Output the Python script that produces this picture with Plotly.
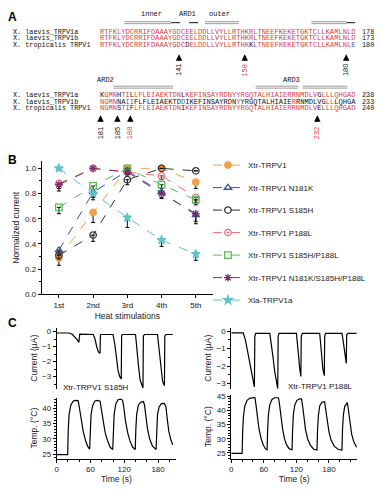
import plotly.graph_objects as go

W, H = 381, 500
def px(x): return x / W
def py(y): return 1 - y / H

SANS = "Liberation Sans"
MONO = "Liberation Mono"

# ---------------- Panel A data ----------------
species = ["X. laevis_TRPV1a", "X. laevis_TRPV1b", "X. tropicalis TRPV1"]
block1 = ["RTFKLYDCRRIFDAAAYGDCEELDDLLVYLLRTHKRLTNEEFKEKETGKTCLLKAMLNLD",
          "RTFKLYDCRRIFDAAAYGDCEELDDLLVYLLRTHKRLTNEEFKEKETGKTCLLKAMLNLD",
          "RTFKLYDCRRIFDAAAYGDCDELDDLLVYLLRTHKKLTNEEFKEKETGKTCLLKAMLNLE"]
block1_end = ["178", "173", "180"]
block2 = ["KGMNHTILLFLEIAEKTDNLKEFINSAYRDNYYRGQTALHIAIERRNMDLVGLLLQHGAD",
          "NGMNNAIIFLFLEIAEKTDDIKEFINSAYRDNYYRGQTALHIAIERRNMDLVGLLLQHGAD"[:60],
          "NGMNSTIFLFLEIAEKTDNIKEFINSAYRDNYYRGQTALHIAIERRNMDLVELLLQHGAD"]
block2_end = ["238", "233", "240"]
blue_marks = {(0, 2, 59), (1, 1, 7), (1, 1, 19), (1, 2, 6)}
sites1 = ["141", "158", "180"]
sites1_red = [False, True, False]
sites2 = ["181", "185", "188", "232"]
sites2_red = [False, False, True, True]

# ---------------- Panel B data ----------------
stims = ["1st", "2nd", "3rd", "4th", "5th"]
names = ["Xtr-TRPV1", "Xtr-TRPV1 N181K", "Xtr-TRPV1 S185H", "Xtr-TRPV1 P188L",
         "Xtr-TRPV1 S185H/P188L", "Xtr-TRPV1 N181K/S185H/P188L", "Xla-TRPV1a"]
wt = [0.29, 0.65, 1.00, 1.00, 0.89]
wt_err = [0.06, 0.08, 0.0, 0.0, 0.05]
n181k = [0.35, 0.81, 0.98, 0.81, 0.63]
n181k_err = [0.03, 0.06, 0.02, 0.04, 0.05]
s185h = [0.31, 0.47, 0.91, 1.00, 0.98]
s185h_err = [0.03, 0.05, 0.04, 0.0, 0.0]
p188l = [0.88, 1.00, 0.97, 0.94, 0.77]
p188l_err = [0.04, 0.0, 0.02, 0.03, 0.04]
dbl = [0.69, 0.86, 1.00, 0.87, 0.75]
dbl_err = [0.05, 0.03, 0.0, 0.03, 0.04]
tri = [0.87, 1.00, 0.97, 0.80, 0.64]
tri_err = [0.05, 0.0, 0.02, 0.04, 0.08]
xla = [1.00, 0.80, 0.61, 0.43, 0.32]
xla_err = [0.0, 0.03, 0.08, 0.05, 0.05]

# ---------------- Panel C data ----------------
s185h_cur_t = [0, 22, 28, 33, 37, 39.3, 39.8, 41, 65, 68, 71, 74, 77, 77.6, 79, 100, 103, 106, 109,
               112, 114.6, 115.3, 117, 140, 142.5, 145, 148, 151, 153.2, 153.9, 156, 179, 182, 185,
               188, 191.3, 192, 194, 206]
s185h_cur_v = [-0.1, -0.1, -0.2, -0.38, -0.58, -0.72, -0.2, -0.18, -0.2, -0.5, -1.0, -1.35, -1.45,
               -0.22, -0.2, -0.2, -0.8, -1.8, -2.6, -3.0, -3.15, -0.25, -0.2, -0.2, -1.0, -2.2, -3.2,
               -3.6, -3.75, -0.3, -0.2, -0.2, -1.2, -2.5, -3.3, -3.6, -0.3, -0.2, -0.2]
s185h_tmp_t = [0, 19.5, 20.5, 22, 25, 29, 33, 38, 40, 43, 47, 51, 55, 58.5, 59.5, 61, 64, 68, 72, 77,
               79, 82, 86, 90, 95, 99.5, 100.5, 102, 105, 109, 114, 117, 119, 122, 126, 130, 135,
               139.5, 140.5, 142, 145, 149, 154, 156, 158, 161, 165, 170, 176.5, 177.5, 179, 182,
               186, 191, 194, 196, 199, 203, 206]
s185h_tmp_v = [24.8, 24.8, 33, 38, 41, 42.3, 42.6, 42.5, 40.5, 36.5, 32.5, 29.5, 27.5, 26.6, 33, 38,
               41, 42.4, 42.6, 42.3, 40, 36, 32, 29.5, 27.2, 26.5, 33, 38, 41.5, 42.8, 43, 42.6, 40.5,
               36, 32, 29.3, 27.2, 26.5, 33, 38, 41, 42, 42.2, 41, 38, 33.5, 30, 27.6, 26.5, 33, 38,
               40.5, 41.5, 41.6, 40.5, 37, 32.5, 29.5, 28]
p188l_cur_t = [0, 22, 26, 30, 34, 38, 42.6, 43.4, 45, 71, 74, 77, 80, 83, 85.6, 86.4, 88, 120, 122,
               124, 126, 128.3, 129, 131, 163, 165, 167, 169, 171.5, 172.2, 174, 204, 206, 208, 210,
               212, 212.8, 215, 231]
p188l_cur_v = [-0.1, -0.1, -0.5, -1.2, -1.9, -2.6, -3.2, -0.3, -0.12, -0.12, -0.7, -1.5, -2.3, -2.9,
               -3.3, -0.3, -0.12, -0.12, -0.6, -1.4, -2.1, -2.6, -0.3, -0.12, -0.12, -0.8, -1.6,
               -2.2, -2.55, -0.3, -0.12, -0.12, -0.5, -1.0, -1.5, -1.85, -0.2, -0.12, -0.12]
p188l_tmp_t = [0, 20, 21, 22.5, 25, 29, 34, 43.5, 45.5, 48, 51, 55, 59, 63, 66, 67, 68.5, 71, 75, 80,
               87, 89, 91.5, 94.5, 98, 102, 107, 112, 113, 114.5, 117, 121, 126, 129.5, 131.5, 134,
               137, 141, 146, 152, 158, 159, 160.5, 163, 167, 172, 174, 176.5, 180, 184, 190, 197,
               204, 205, 206.5, 209, 212, 214, 216, 218.5, 222, 226, 231]
p188l_tmp_v = [24.8, 24.8, 33, 38, 41.5, 43.5, 44.2, 44.5, 42, 37.5, 33.5, 30, 27.8, 26.4, 26.1, 33,
               38.5, 42, 43.8, 44.4, 44.4, 42, 37.5, 33.5, 30, 27.8, 26.4, 26.1, 33, 38.5, 41.8,
               43.5, 44, 44, 41.5, 37, 33, 29.8, 27.6, 26.3, 26, 33, 38, 41.5, 42.8, 43, 40.5, 36.5,
               32.5, 29.5, 27.3, 26.3, 26, 33, 38, 41.3, 42.5, 42.7, 40, 35.5, 31.5, 28.8, 27]

# ---------------- figure ----------------
fig = go.Figure()

styles = [
    dict(color="#f0a04b", symbol="circle"),
    dict(color="#34559b", symbol="triangle-up-open"),
    dict(color="#333333", symbol="circle-open"),
    dict(color="#e8707a", symbol="circle-open-dot"),
    dict(color="#5cb85c", symbol="square-open"),
    dict(color="#7b2b6e", symbol="asterisk-open"),
    dict(color="#5fc3c8", symbol="star"),
]
vals = [wt, n181k, s185h, p188l, dbl, tri, xla]
errs = [wt_err, n181k_err, s185h_err, p188l_err, dbl_err, tri_err, xla_err]
for i, (nm, v, e, st) in enumerate(zip(names, vals, errs, styles)):
    fig.add_trace(go.Scatter(
        x=stims, y=v, name=nm, mode="lines+markers", legendgroup=str(i),
        line=dict(color=st["color"], dash="dash", width=1),
        marker=dict(symbol=st["symbol"], size=6.5, color=st["color"],
                    line=dict(color=st["color"], width=1.3)),
        error_y=dict(type="data", symmetric=False, array=[0] * len(e), arrayminus=e,
                     color="black", thickness=1, width=2),
        xaxis="x", yaxis="y"))

tr_line = dict(color="black", width=1.2)
fig.add_trace(go.Scatter(x=s185h_cur_t, y=s185h_cur_v, mode="lines", line=tr_line,
                         showlegend=False, xaxis="x2", yaxis="y2"))
fig.add_trace(go.Scatter(x=s185h_tmp_t, y=s185h_tmp_v, mode="lines", line=tr_line,
                         showlegend=False, xaxis="x3", yaxis="y3"))
fig.add_trace(go.Scatter(x=p188l_cur_t, y=p188l_cur_v, mode="lines", line=tr_line,
                         showlegend=False, xaxis="x4", yaxis="y4"))
fig.add_trace(go.Scatter(x=p188l_tmp_t, y=p188l_tmp_v, mode="lines", line=tr_line,
                         showlegend=False, xaxis="x5", yaxis="y5"))

tickf = dict(family=SANS, size=8, color="#222")
titf = dict(family=SANS, size=8.5, color="#222")
axline = dict(showline=True, linecolor="black", linewidth=1, ticks="outside", ticklen=3,
              tickcolor="black", showgrid=False, zeroline=False, tickfont=tickf)

layout = dict(
    width=W, height=H, autosize=False, margin=dict(l=0, r=0, t=0, b=0),
    paper_bgcolor="white", plot_bgcolor="white",
    font=dict(family=SANS, size=8, color="#222"),
    showlegend=True,
    legend=dict(x=px(207), y=py(150), xanchor="left", yanchor="top",
                font=dict(family=SANS, size=8, color="#222"), tracegroupgap=3.5,
                itemwidth=30, bgcolor="rgba(0,0,0,0)"),
    xaxis=dict(domain=[px(40), px(212)], anchor="y", range=[-0.5, 4.5], type="category",
               tickfont=dict(family=SANS, size=8, color="#111"),
               title=dict(text="Heat stimulations", font=titf, standoff=4),
               **{k: v for k, v in axline.items() if k != "tickfont"}),
    yaxis=dict(domain=[py(296), py(161)], anchor="x", range=[0, 1.055],
               tickvals=[0, 0.2, 0.4, 0.6, 0.8, 1.0], tickformat=".1f",
               minor=dict(dtick=0.1, ticks="outside", ticklen=2, tickcolor="black"),
               title=dict(text="Normalized current", font=titf, standoff=4), **axline),
    xaxis2=dict(domain=[px(55), px(175)], anchor="y2", range=[0, 212], visible=False),
    yaxis2=dict(domain=[py(392), py(330)], anchor="x2", range=[-3.8, 0.25],
                tickvals=[0, -1, -2, -3], minor=dict(dtick=0.5, ticks="outside", ticklen=2,
                                                      tickcolor="black"),
                title=dict(text="Current (µA)", font=titf, standoff=3), **axline),
    xaxis3=dict(domain=[px(55), px(175)], anchor="y3", range=[0, 212],
                tickvals=[0, 60, 120, 180],
                minor=dict(dtick=20, ticks="outside", ticklen=2, tickcolor="black"),
                title=dict(text="Time (s)", font=titf, standoff=2), **axline),
    yaxis3=dict(domain=[py(463), py(401)], anchor="x3", range=[23.5, 43.5],
                tickvals=[25, 30, 35, 40],
                minor=dict(dtick=1, ticks="outside", ticklen=2, tickcolor="black"),
                title=dict(text="Temp. (°C)", font=titf, standoff=3), **axline),
    xaxis4=dict(domain=[px(230.5), px(357)], anchor="y4", range=[0, 232], visible=False),
    yaxis4=dict(domain=[py(392), py(330)], anchor="x4", range=[-3.3, 0.2],
                tickvals=[0, -1, -2, -3], minor=dict(dtick=0.5, ticks="outside", ticklen=2,
                                                      tickcolor="black"),
                title=dict(text="Current (µA)", font=titf, standoff=3), **axline),
    xaxis5=dict(domain=[px(230.5), px(357)], anchor="y5", range=[0, 232],
                tickvals=[0, 60, 120, 180],
                minor=dict(dtick=20, ticks="outside", ticklen=2, tickcolor="black"),
                title=dict(text="Time (s)", font=titf, standoff=2), **axline),
    yaxis5=dict(domain=[py(463), py(398)], anchor="x5", range=[23, 45.5],
                tickvals=[25, 30, 35, 40, 45],
                minor=dict(dtick=1, ticks="outside", ticklen=2, tickcolor="black"),
                title=dict(text="Temp. (°C)", font=titf, standoff=3), **axline),
)
fig.update_layout(**layout)

ann = []
shapes = []
RED = "#d8404a"

def panel_label(t, x, y):
    ann.append(dict(text="<b>%s</b>" % t, x=px(x), y=py(y), xref="paper", yref="paper",
                    showarrow=False, xanchor="left", yanchor="middle",
                    font=dict(family=SANS, size=12, color="black")))

panel_label("A", 4, 14)
panel_label("B", 4, 160)
panel_label("C", 4, 325)

def seq_html(block, r, bi):
    runs = []
    for i, ch in enumerate(block[r]):
        col = [b[i] for b in block]
        maj = max(set(col), key=col.count)
        if (bi, r, i) in blue_marks:
            c = "#3a5fa8"
        elif col.count(maj) >= 2 and ch == maj:
            c = RED
        else:
            c = "#111111"
        if runs and runs[-1][0] == c:
            runs[-1][1] += ch
        else:
            runs.append([c, ch])
    return "".join('<span style="color:%s">%s</span>' % (c, s) for c, s in runs)

SEQ_X = 97
def add_block(block, ends, bi, ys):
    for r in range(3):
        ann.append(dict(text=species[r], x=px(9), y=py(ys[r]), xref="paper", yref="paper",
                        showarrow=False, xanchor="left", yanchor="middle",
                        font=dict(family=MONO, size=6.8, color="#111")))
        ann.append(dict(text=seq_html(block, r, bi), x=px(SEQ_X), y=py(ys[r]), xref="paper",
                        yref="paper", showarrow=False, xanchor="left", yanchor="middle",
                        font=dict(family=MONO, size=7.1, color=RED)))
        ann.append(dict(text=ends[r], x=px(360), y=py(ys[r]), xref="paper", yref="paper",
                        showarrow=False, xanchor="left", yanchor="middle",
                        font=dict(family=MONO, size=6.8, color="#111")))

add_block(block1, block1_end, 0, [29.5, 36, 42.5])
add_block(block2, block2_end, 1, [94, 100.5, 107])

def site(label, red, x, ytip, ylab):
    ann.append(dict(text="", x=px(x), y=py(ytip), xref="paper", yref="paper", showarrow=True,
                    ax=0, ay=8, arrowhead=2, arrowsize=1, arrowwidth=1.3, arrowcolor="black"))
    ann.append(dict(text=label, x=px(x), y=py(ylab), xref="paper", yref="paper",
                    showarrow=False, textangle=-90, xanchor="center", yanchor="middle",
                    font=dict(family=SANS, size=7.5, color=RED if red else "#111")))

for lab, red, x in zip(sites1, sites1_red, [178, 244, 346]):
    site(lab, red, x, 52, 68)
for lab, red, x in zip(sites2, sites2_red, [99, 116, 129, 317]):
    site(lab, red, x, 114, 132)

for txt, x, y in [("inner", 150, 11), ("ARD1", 186, 11), ("outer", 219, 11),
                  ("ARD2", 104, 78.5), ("ARD3", 291, 78.5)]:
    ann.append(dict(text=txt, x=px(x), y=py(y), xref="paper", yref="paper", showarrow=False,
                    xanchor="center", yanchor="middle",
                    font=dict(family=MONO, size=7, color="#111")))

def dbar(x0, x1, y):
    for dy in (-1, 1):
        shapes.append(dict(type="line", xref="paper", yref="paper", x0=px(x0), x1=px(x1),
                           y0=py(y + dy), y1=py(y + dy), line=dict(color="#9a9a9a", width=1)))

def dash(x0, x1, y):
    shapes.append(dict(type="line", xref="paper", yref="paper", x0=px(x0), x1=px(x1),
                       y0=py(y), y1=py(y), line=dict(color="#111", width=1, dash="dash")))

dbar(123, 170, 20); dash(170, 204, 20); dbar(204, 238, 20)
dbar(311, 346, 20); dash(346, 356, 20)
dbar(112, 172, 85.5); dbar(255, 298, 85.5); dbar(302, 347, 85.5)

ann.append(dict(text="Xtr-TRPV1 S185H", x=px(59), y=py(391), xref="paper", yref="paper",
                showarrow=False, xanchor="left", yanchor="middle",
                font=dict(family=SANS, size=8, color="#111")))
ann.append(dict(text="Xtr-TRPV1 P188L", x=px(355), y=py(390), xref="paper", yref="paper",
                showarrow=False, xanchor="right", yanchor="middle",
                font=dict(family=SANS, size=8, color="#111")))

fig.update_layout(annotations=ann, shapes=shapes)
fig.write_html("out.html", config={"displayModeBar": False},
               post_script="document.body.style.margin='0';")
